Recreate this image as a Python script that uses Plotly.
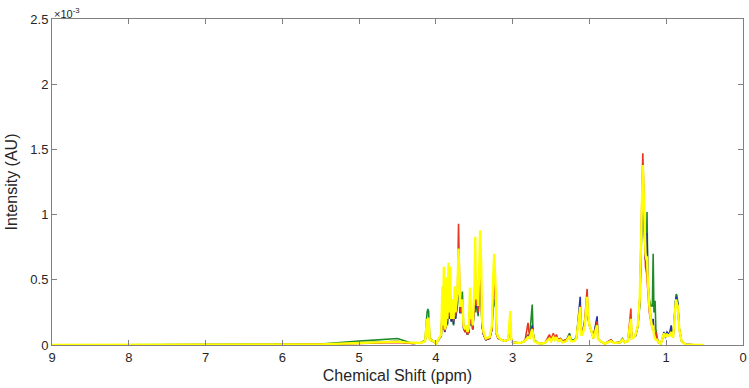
import plotly.graph_objects as go

# Chemical shift grid (ppm) shared by all spectra
ppm = [9.00, 7.00, 6.00, 5.50, 5.00, 4.60, 4.50, 4.40, 4.30, 4.20, 4.14, 4.115, 4.105, 4.095, 4.08, 4.03, 4.00,
       3.97, 3.93, 3.915, 3.905, 3.897, 3.885, 3.87, 3.86, 3.85, 3.835, 3.825, 3.815, 3.80, 3.78, 3.77, 3.755,
       3.745, 3.72, 3.705, 3.695, 3.685, 3.67, 3.655, 3.64, 3.62, 3.60, 3.59, 3.57, 3.555, 3.545, 3.53, 3.52,
       3.50, 3.487, 3.48, 3.465, 3.45, 3.435, 3.424, 3.41, 3.40, 3.38, 3.35, 3.30, 3.27, 3.255, 3.24, 3.23,
       3.22, 3.21, 3.19, 3.15, 3.10, 3.06, 3.03, 3.02, 3.00, 2.90, 2.84, 2.80, 2.78, 2.745, 2.735, 2.72, 2.65,
       2.58, 2.54, 2.52, 2.50, 2.47, 2.45, 2.43, 2.41, 2.38, 2.35, 2.30, 2.26, 2.24, 2.20, 2.17, 2.12, 2.11,
       2.09, 2.06, 2.03, 2.02, 2.00, 1.98, 1.95, 1.90, 1.89, 1.86, 1.80, 1.72, 1.68, 1.60, 1.57, 1.54, 1.50,
       1.46, 1.45, 1.42, 1.40, 1.37, 1.345, 1.33, 1.315, 1.305, 1.295, 1.285, 1.27, 1.255, 1.25, 1.24, 1.22,
       1.20, 1.18, 1.17, 1.16, 1.145, 1.135, 1.12, 1.10, 1.07, 1.05, 1.03, 1.01, 0.99, 0.96, 0.935, 0.925,
       0.91, 0.88, 0.87, 0.86, 0.85, 0.83, 0.80, 0.75, 0.70, 0.60, 0.52]

# Intensities in units of 1e-3 (AU)
yellow = [0, .002, .002, .005, .015, .028, .026, .020, .015, .015, .030, .200, .060, .210, .040, .030, .010,
          .040, .080, .450, .150, .600, .120, .150, .520, .200, .630, .250, .600, .200, .350, .200, .450,
          .250, .400, .740, .500, .300, .300, .350, .150, .120, .150, .100, .130, .440, .200, .250, .150,
          .400, .830, .350, .500, .300, .600, .880, .600, .200, .100, .050, .060, .150, .500, .700, .550,
          .400, .100, .060, .040, .030, .040, .260, .050, .020, .015, .030, .060, .050, .120, .080, .030, .010,
          .015, .040, .050, .030, .060, .040, .060, .030, .040, .020, .030, .070, .030, .030, .050, .290, .080,
          .080, .150, .370, .250, .150, .120, .050, .150, .050, .030, .010, .030, .015, .020, .040, .020, .030,
          .200, .050, .060, .080, .150, .350, .700, 1.100, 1.380, 1.200, .900, .700, .650, .680, .500, .300,
          .200, .120, .150, .080, .050, .040, .040, .020, .010, .050, .090, .060, .080, .070, .100, .070,
          .060, .300, .350, .310, .300, .120, .030, .005, .002, 0, 0]
green = [0, .002, .003, .008, .030, .045, .050, .030, .012, .015, .040, .250, .276, .260, .050, .030, .010,
         .040, .070, .300, .120, .380, .100, .150, .320, .150, .400, .200, .350, .180, .200, .150, .300,
         .200, .300, .550, .400, .250, .250, .410, .150, .100, .120, .080, .100, .300, .150, .180, .120,
         .280, .500, .250, .350, .220, .400, .550, .350, .150, .080, .040, .050, .120, .300, .350, .300,
         .300, .100, .060, .040, .030, .040, .150, .050, .020, .015, .030, .080, .060, .310, .100, .040, .010,
         .015, .050, .060, .040, .070, .050, .070, .040, .050, .030, .040, .090, .040, .040, .060, .300, .080,
         .100, .180, .350, .220, .150, .120, .060, .200, .050, .030, .010, .040, .015, .025, .050, .020, .030,
         .150, .050, .060, .070, .140, .300, .650, 1.000, 1.200, 1.000, .800, .650, .800, 1.020, .500, .350,
         .300, .300, .700, .250, .340, .120, .060, .020, .010, .050, .080, .060, .080, .070, .110, .080,
         .070, .330, .390, .380, .330, .130, .030, .005, .002, 0, 0]
blue = [0, .002, .002, .005, .015, .025, .028, .018, .012, .015, .030, .150, .080, .160, .040, .025, .010,
        .035, .070, .320, .120, .420, .100, .140, .350, .160, .420, .200, .400, .180, .250, .160, .320,
        .200, .320, .600, .400, .250, .250, .300, .130, .100, .120, .080, .100, .300, .150, .200, .120,
        .300, .550, .280, .380, .240, .450, .600, .400, .150, .080, .040, .050, .120, .400, .600, .450,
        .300, .080, .050, .040, .030, .040, .180, .050, .020, .015, .030, .070, .050, .150, .080, .030, .010,
        .015, .040, .050, .030, .060, .040, .060, .030, .040, .020, .030, .080, .030, .030, .050, .370, .080,
        .090, .170, .340, .220, .150, .120, .050, .220, .050, .030, .010, .030, .015, .020, .040, .020, .030,
        .160, .050, .060, .070, .140, .320, .650, 1.050, 1.350, 1.100, .850, .650, .700, .860, .500, .300,
        .220, .150, .200, .100, .080, .050, .040, .020, .010, .060, .100, .070, .100, .080, .150, .090,
        .070, .320, .370, .350, .320, .120, .030, .005, .002, 0, 0]
red = [0, .002, .002, .005, .012, .022, .020, .015, .012, .015, .030, .150, .070, .150, .040, .025, .010,
       .035, .080, .350, .120, .450, .110, .140, .380, .180, .480, .220, .420, .200, .280, .180, .350,
       .220, .350, .930, .500, .280, .250, .300, .130, .100, .120, .080, .100, .320, .160, .200, .120,
       .320, .600, .300, .400, .250, .480, .650, .420, .160, .080, .040, .050, .120, .380, .500, .400,
       .300, .080, .050, .040, .030, .040, .160, .050, .020, .015, .030, .170, .060, .130, .080, .030, .010,
       .015, .060, .080, .040, .090, .050, .080, .040, .050, .030, .040, .070, .030, .030, .050, .300, .080,
       .090, .200, .430, .250, .150, .120, .050, .180, .050, .030, .010, .040, .015, .020, .040, .020, .030,
       .280, .060, .060, .080, .150, .350, .750, 1.200, 1.470, 1.250, .900, .600, .550, .500, .400, .250,
       .180, .120, .150, .080, .060, .100, .050, .020, .010, .050, .080, .060, .080, .070, .100, .070,
       .060, .300, .340, .320, .300, .120, .030, .005, .002, 0, 0]

series = [("Group A", green, "#1f8a2a", 1.6),
          ("Group B", blue, "#2233aa", 1.6),
          ("Group C", red, "#e8361c", 1.6),
          ("Group D", yellow, "#ffff00", 2.4)]

fig = go.Figure()
for name, vals, col, w in series:
    fig.add_trace(go.Scatter(x=ppm, y=[v * 1e-3 for v in vals], mode="lines", name=name,
                             line=dict(color=col, width=w), showlegend=False))

axis_common = dict(showline=True, linecolor="#808080", linewidth=1, mirror="ticks", ticks="inside",
                   ticklen=5, tickcolor="#808080", showgrid=False, zeroline=False, automargin=False,
                   tickfont=dict(family="Liberation Sans, Arial", size=13, color="#262626"))

fig.update_layout(
    width=749, height=388, paper_bgcolor="white", plot_bgcolor="white",
    margin=dict(l=52, r=6, t=19, b=43),
    xaxis=dict(range=[9, 0], tickvals=[9, 8, 7, 6, 5, 4, 3, 2, 1, 0],
               ticktext=["9", "8", "7", "6", "5", "4", "3", "2", "1", "0"],
               title=dict(text="Chemical Shift (ppm)", standoff=6,
                          font=dict(family="Liberation Sans, Arial", size=16, color="#262626")),
               **axis_common),
    yaxis=dict(range=[0, 2.5e-3], tickvals=[0, 0.5e-3, 1e-3, 1.5e-3, 2e-3, 2.5e-3],
               ticktext=["0", "0.5", "1", "1.5", "2", "2.5"],
               title=dict(text="Intensity (AU)", standoff=8,
                          font=dict(family="Liberation Sans, Arial", size=16, color="#262626")),
               **axis_common),
    annotations=[dict(text="×10<sup>-3</sup>", x=0, y=1, xref="paper", yref="paper",
                      xanchor="left", yanchor="bottom", showarrow=False, xshift=0, yshift=-3,
                      font=dict(family="Liberation Sans, Arial", size=11, color="#262626"))],
)

fig.write_html("out.html", config={"displayModeBar": False},
               post_script="document.body.style.margin='0';document.body.style.overflow='hidden';")
